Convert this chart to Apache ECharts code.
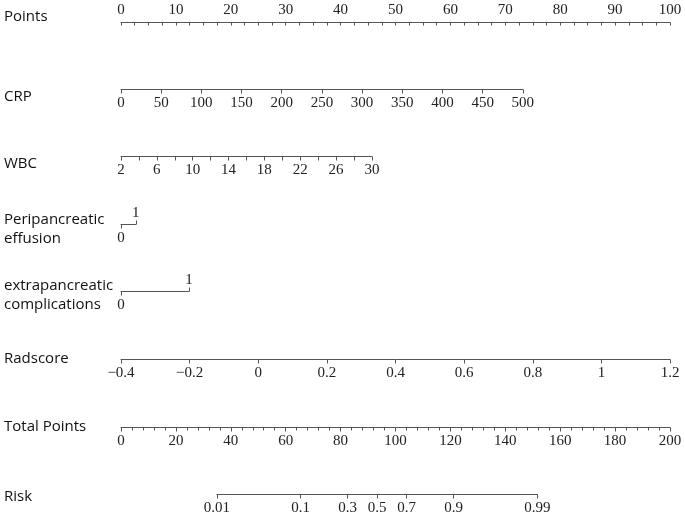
<!DOCTYPE html>
<html>
<head>
<meta charset="utf-8">
<script src="https://cdn.jsdelivr.net/npm/echarts@6/dist/echarts.min.js"></script>
<style>html,body{margin:0;padding:0;background:#fff}#c{width:685px;height:519px}</style>
</head>
<body>
<div id="c"></div>
<script>
// ---- data ----
const rowNames = ['Points', 'CRP', 'WBC', 'Peripancreatic\neffusion', 'extrapancreatic\ncomplications', 'Radscore', 'Total Points', 'Risk'];
const pointsTicks = [0, 10, 20, 30, 40, 50, 60, 70, 80, 90, 100];
const crpTicks = [0, 50, 100, 150, 200, 250, 300, 350, 400, 450, 500];
const crpMaxPoints = 73.2;
const wbcTicks = [2, 4, 6, 8, 10, 12, 14, 16, 18, 20, 22, 24, 26, 28, 30];
const wbcLabels = [2, 6, 10, 14, 18, 22, 26, 30];
const wbcMaxPoints = 45.7;
const periTicks = [0, 1];
const periMaxPoints = 2.7;
const extraTicks = [0, 1];
const extraMaxPoints = 12.4;
const radTicks = [-0.4, -0.2, 0, 0.2, 0.4, 0.6, 0.8, 1, 1.2];
const radMaxPoints = 100;
const totalTicks = [0, 20, 40, 60, 80, 100, 120, 140, 160, 180, 200];
const riskTicks = [0.01, 0.1, 0.3, 0.5, 0.7, 0.9, 0.99];
const riskHalfTotal = 93.3;   // total points at risk 0.5
const totalPerLogit = 12.7;   // total points per logit unit

// ---- layout ----
const X0 = 121, W100 = 549;   // x of 0 points, px per 100 points
const lineY = [22.5, 89.5, 156.5, 224.5, 291.5, 359.5, 427.5, 494.5];
const titleY = [17, 97, 164, 229, 295.5, 359, 427, 497];
const lineColor = '#555';
const tickFont = { fontFamily: 'Liberation Serif', fontSize: 15, color: '#222' };

const logit = p => Math.log(p / (1 - p));
const expit = l => 1 / (1 + Math.exp(-l));

function gridFor(i, p0, p1) {
  return { left: X0 + p0 / 100 * W100, width: (p1 - p0) / 100 * W100, top: lineY[i], height: 0 };
}
function axisBase(gi, pos, min, max, extra) {
  return Object.assign({
    type: 'value', gridIndex: gi, position: pos, min: min, max: max,
    axisLine: { show: true, lineStyle: { color: lineColor, width: 1 } },
    axisTick: { show: true, length: 4, lineStyle: { color: lineColor } },
    axisLabel: Object.assign({ margin: 6 }, tickFont),
    splitLine: { show: false }
  }, extra || {});
}

const totalMin = riskHalfTotal + totalPerLogit * logit(riskTicks[0]);
const totalMax = riskHalfTotal + totalPerLogit * logit(riskTicks[riskTicks.length - 1]);

const grids = [
  gridFor(0, 0, 100),
  gridFor(1, 0, crpMaxPoints),
  gridFor(2, 0, wbcMaxPoints),
  gridFor(3, 0, periMaxPoints),
  gridFor(4, 0, extraMaxPoints),
  gridFor(5, 0, radMaxPoints),
  gridFor(6, 0, 100),
  gridFor(7, totalMin / 2, totalMax / 2)
];

const xAxes = [
  axisBase(0, 'top', pointsTicks[0], pointsTicks[pointsTicks.length - 1], {
    interval: 10,
    axisTick: { show: true, inside: true, length: 3, lineStyle: { color: lineColor } },
    minorTick: { show: true, splitNumber: 4, length: 3, lineStyle: { color: lineColor } },
    axisLabel: Object.assign({ margin: 5 }, tickFont)
  }),
  axisBase(1, 'bottom', crpTicks[0], crpTicks[crpTicks.length - 1], { interval: 50 }),
  axisBase(2, 'bottom', wbcTicks[0], wbcTicks[wbcTicks.length - 1], {
    axisTick: { show: true, length: 4, customValues: wbcTicks, lineStyle: { color: lineColor } },
    axisLabel: Object.assign({ margin: 6, customValues: wbcLabels }, tickFont)
  }),
  axisBase(3, 'bottom', periTicks[0], periTicks[1], {
    axisTick: { show: true, length: 4, customValues: [periTicks[0]], lineStyle: { color: lineColor } },
    axisLabel: Object.assign({ margin: 6, customValues: [periTicks[0]] }, tickFont)
  }),
  axisBase(3, 'top', periTicks[0], periTicks[1], {
    axisLine: { show: false },
    axisTick: { show: true, length: 4, customValues: [periTicks[1]], lineStyle: { color: lineColor } },
    axisLabel: Object.assign({ margin: 4, customValues: [periTicks[1]] }, tickFont)
  }),
  axisBase(4, 'bottom', extraTicks[0], extraTicks[1], {
    axisTick: { show: true, length: 4, customValues: [extraTicks[0]], lineStyle: { color: lineColor } },
    axisLabel: Object.assign({ margin: 6, customValues: [extraTicks[0]] }, tickFont)
  }),
  axisBase(4, 'top', extraTicks[0], extraTicks[1], {
    axisLine: { show: false },
    axisTick: { show: true, length: 4, customValues: [extraTicks[1]], lineStyle: { color: lineColor } },
    axisLabel: Object.assign({ margin: 4, customValues: [extraTicks[1]] }, tickFont)
  }),
  axisBase(5, 'bottom', radTicks[0], radTicks[radTicks.length - 1], {
    interval: 0.2,
    axisTick: { show: true, length: 4, customValues: radTicks, lineStyle: { color: lineColor } },
    axisLabel: Object.assign({
      margin: 6, customValues: radTicks,
      formatter: v => String(Math.round(v * 10) / 10).replace('-', '\u2212')
    }, tickFont)
  }),
  axisBase(6, 'bottom', totalTicks[0], totalTicks[totalTicks.length - 1], {
    interval: 20,
    minorTick: { show: true, splitNumber: 5, length: 3, lineStyle: { color: lineColor } }
  }),
  axisBase(7, 'bottom', logit(riskTicks[0]), logit(riskTicks[riskTicks.length - 1]), {
    axisTick: { show: true, length: 4, customValues: riskTicks.map(logit), lineStyle: { color: lineColor } },
    axisLabel: Object.assign({
      margin: 6, customValues: riskTicks.map(logit),
      formatter: v => String(Number(expit(v).toFixed(2)))
    }, tickFont)
  })
];

const yAxes = grids.map((g, i) => ({ type: 'value', gridIndex: i, show: false, min: 0, max: 1 }));

const titles = rowNames.map((name, i) => ({
  type: 'text',
  left: 4,
  top: titleY[i] - (name.indexOf('\n') >= 0 ? 19 : 9.5),
  style: {
    text: name,
    font: '15px "Open Sans"',
    fill: '#111',
    lineHeight: 19
  }
}));

const chart = echarts.init(document.getElementById('c'), null, { renderer: 'canvas' });
chart.setOption({
  animation: false,
  backgroundColor: '#fff',
  grid: grids,
  xAxis: xAxes,
  yAxis: yAxes,
  graphic: titles,
  series: []
});
</script>
</body>
</html>
